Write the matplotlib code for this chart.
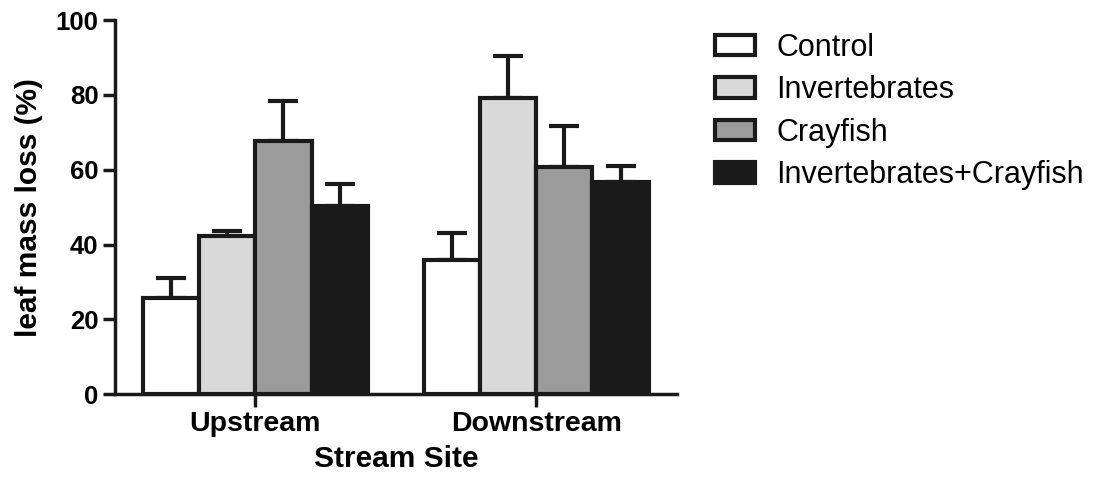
import numpy as np
import matplotlib.pyplot as plt

plt.rcParams['font.family'] = ['Liberation Sans', 'DejaVu Sans']

sites = ['Upstream', 'Downstream']
treatments = ['Control', 'Invertebrates', 'Crayfish', 'Invertebrates+Crayfish']
colors = ['#ffffff', '#d9d9d9', '#9b9b9b', '#1a1a1a']

# mean leaf mass loss (%) per treatment, one value per site
means = {
    'Control': [25.7, 35.8],
    'Invertebrates': [42.2, 79.1],
    'Crayfish': [67.6, 60.7],
    'Invertebrates+Crayfish': [50.3, 56.7],
}
# standard error (drawn upward only)
errs = {
    'Control': [5.3, 7.2],
    'Invertebrates': [1.4, 11.3],
    'Crayfish': [10.7, 11.0],
    'Invertebrates+Crayfish': [5.8, 4.3],
}

fig = plt.figure(figsize=(10.95, 4.79), dpi=100)
ax = fig.add_axes([0.105, 0.177, 0.513, 0.781])

x = np.arange(len(sites))
width = 0.2
for i, t in enumerate(treatments):
    pos = x + (i - 1.5) * width
    ax.bar(pos, means[t], width, color=colors[i], edgecolor='#1a1a1a',
           linewidth=3, label=t, zorder=3)
    ax.errorbar(pos, means[t], yerr=[np.zeros(len(sites)), errs[t]],
                fmt='none', ecolor='#1a1a1a', elinewidth=3, capsize=11,
                capthick=3, zorder=2)

ax.set_xlim(-0.5, 1.5)
ax.set_ylim(0, 100)
ax.set_yticks([0, 20, 40, 60, 80, 100])
ax.set_xticks(x)
ax.set_xticklabels(sites, fontsize=20.5, fontweight='bold')
for lbl in ax.get_yticklabels():
    lbl.set_fontsize(18.5)
    lbl.set_fontweight('bold')

ax.set_ylabel('leaf mass loss (%)', fontsize=21.5, fontweight='bold', labelpad=9)
ax.set_xlabel('Stream Site', fontsize=21.5, fontweight='bold', labelpad=6)

for side in ['top', 'right']:
    ax.spines[side].set_visible(False)
for side in ['left', 'bottom']:
    ax.spines[side].set_linewidth(2.5)
    ax.spines[side].set_color('#1a1a1a')
ax.tick_params(direction='out', length=9, width=2.5, color='#1a1a1a', pad=3)

leg = fig.legend(loc='upper left', bbox_to_anchor=(0.628, 0.989),
                 frameon=False, fontsize=22, handlelength=1.3,
                 handleheight=0.65, labelspacing=0.41, handletextpad=0.7)

fig.savefig('out.png', dpi=100)
